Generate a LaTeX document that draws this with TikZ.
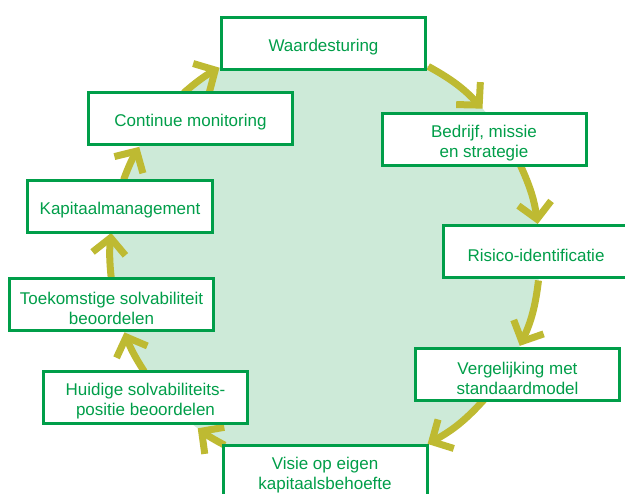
\documentclass[tikz,border=0pt]{standalone}
\usepackage{fontspec}
\setmainfont{Liberation Sans}
\usetikzlibrary{arrows.meta,calc}
\definecolor{boxgreen}{RGB}{0,158,73}
\definecolor{fillgreen}{RGB}{205,234,216}
\definecolor{olivearrow}{RGB}{190,186,50}
\pgfdeclarelayer{bg}
\pgfdeclarelayer{arr}
\pgfsetlayers{bg,arr,main}
\newcommand{\topstrut}{\rule{0pt}{19.5pt}}
\begin{document}
\begin{tikzpicture}[x=1pt,y=1pt,
  stepbox/.style={draw=boxgreen, line width=3pt, fill=white, minimum height=52pt,
    text=boxgreen, align=center, font=\fontsize{17}{20}\selectfont, inner sep=0pt},
  wide/.style={minimum width=204pt},
  narrow/.style={minimum width=185pt},
  cyc/.style={draw=olivearrow, line width=7pt, -{Straight Barb[length=16pt,width=33pt]}}]
\useasboundingbox (0,0) rectangle (625,-494);
\clip (0,0) rectangle (625,-494);
% boxes
\node[stepbox,wide]   (w)  at (323.5,-43.5) {\topstrut Waardesturing};
\node[stepbox,wide]   (b)  at (484,-139.5)  {\topstrut Bedrijf, missie\\en strategie};
\node[stepbox,narrow] (r)  at (536,-252)    {\topstrut Risico-identificatie};
\node[stepbox,wide]   (v)  at (517.5,-375)  {\topstrut Vergelijking met\\standaardmodel};
\node[stepbox,wide]   (vi) at (325,-471.5)  {\topstrut Visie op eigen\\kapitaalsbehoefte};
\node[stepbox,wide]   (h)  at (145.5,-397.5){\topstrut Huidige solvabiliteits-\\positie beoordelen};
\node[stepbox,wide]   (t)  at (111.5,-304.5){\topstrut Toekomstige solvabiliteit\\beoordelen};
\node[stepbox,narrow] (k)  at (120,-206.5)  {\topstrut Kapitaalmanagement};
\node[stepbox,wide]   (cm) at (190.5,-118.5){\topstrut Continue monitoring};
% circle and arrow points
\coordinate (c) at (325,-255);
\coordinate (s1) at ($(c)+(61.3:215)$);  \coordinate (e1) at ($(c)+(42.9:215)$);
\coordinate (s2) at ($(c)+(24.6:215)$);  \coordinate (e2) at ($(c)+(8.3:215)$);
\coordinate (s3) at ($(c)+(-6.8:215)$);  \coordinate (e3) at ($(c)+(-25.0:215)$);
\coordinate (s4) at ($(c)+(-41.7:215)$); \coordinate (e4) at ($(c)+(-61.5:215)$);
\coordinate (s5) at ($(c)+(242.2:215)$); \coordinate (e5) at ($(c)+(233.7:215)$);
\coordinate (s6) at ($(c)+(212.8:215)$); \coordinate (e6) at ($(c)+(201.1:215)$);
\coordinate (s7) at ($(c)+(186.1:215)$); \coordinate (e7) at ($(c)+(174.1:215)$);
\coordinate (s8) at ($(c)+(159.5:215)$); \coordinate (e8) at ($(c)+(149.8:215)$);
\coordinate (s9) at ($(c)+(131.1:215)$); \coordinate (e9) at ($(c)+(119.4:215)$);
\begin{pgfonlayer}{bg}
  \fill[fillgreen] (c) circle[radius=215];
\end{pgfonlayer}
\begin{pgfonlayer}{arr}
  \draw[cyc] (s1) to[bend left=9.2] (e1);
  \draw[cyc] (s2) to[bend left=8.2] (e2);
  \draw[cyc] (s3) to[bend left=9.1] (e3);
  \draw[cyc] (s4) to[bend left=9.9] (e4);
  \draw[cyc] (s5) to[bend left=4.3] (e5);
  \draw[cyc] (s6) to[bend left=5.9] (e6);
  \draw[cyc] (s7) to[bend left=6.0] (e7);
  \draw[cyc] (s8) to[bend left=4.9] (e8);
  \draw[cyc] (s9) to[bend left=5.9] (e9);
\end{pgfonlayer}
\end{tikzpicture}
\end{document}
